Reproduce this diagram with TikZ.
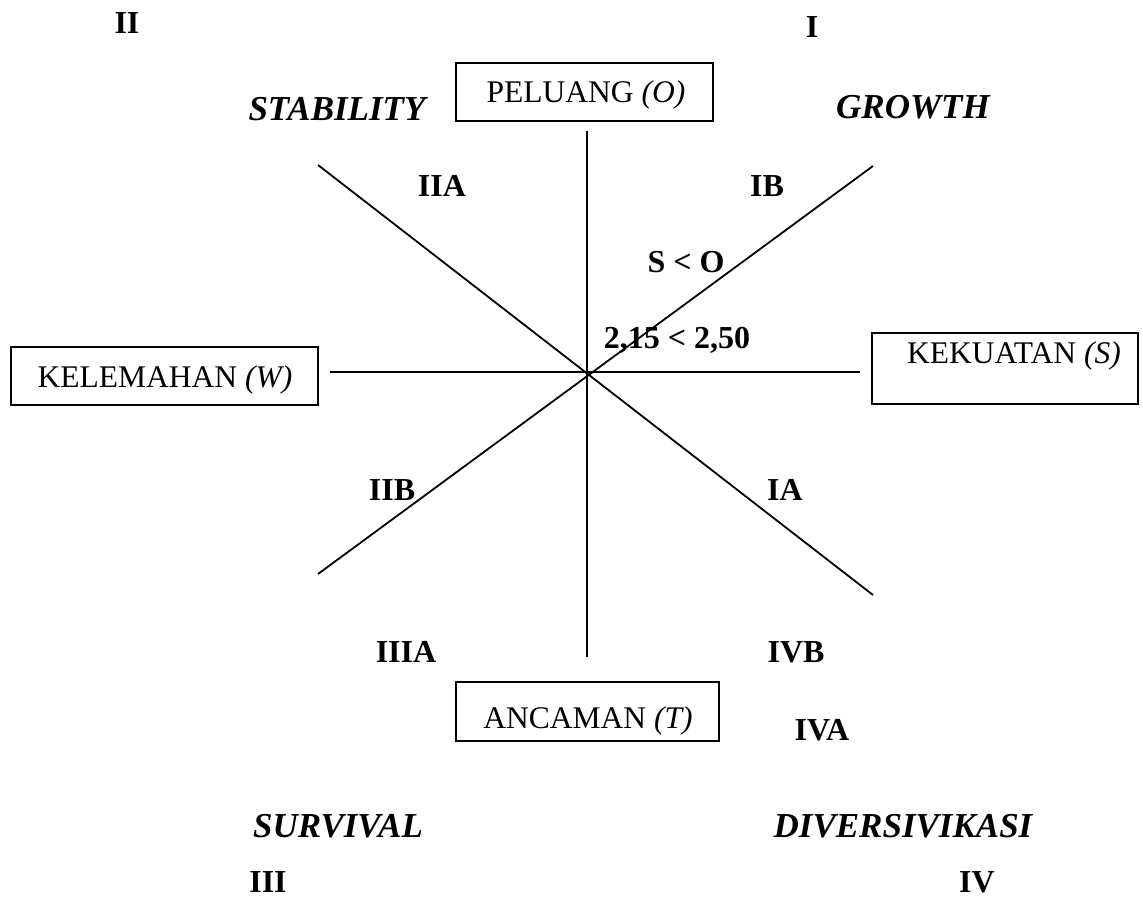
\documentclass[tikz,border=0pt]{standalone}
\usepackage{fontspec}
\setmainfont{Liberation Serif}
\begin{document}
\begin{tikzpicture}[x=1pt,y=-1pt,
  ln/.style={line width=1.8pt},
  boxnode/.style={draw,line width=1.8pt,inner sep=0pt},
  boxtxt/.style={anchor=base,inner sep=0pt,font=\fontsize{31.5}{36}\selectfont},
  lab/.style={anchor=base,inner sep=0pt,font=\fontsize{32}{38}\selectfont\bfseries},
  strat/.style={anchor=base,inner sep=0pt,font=\fontsize{35}{40}\selectfont\bfseries\itshape}]
\useasboundingbox (0,0) rectangle (1143,899);
% boxes
\node[boxnode,minimum width=257pt,minimum height=58pt] (pel) at (584.5,92) {};
\node[boxtxt] (peltxt) at (586,102) {PELUANG \textit{(O)}};
\node[boxnode,minimum width=266pt,minimum height=71pt] (kek) at (1005,368.5) {};
\node[boxtxt] (kektxt) at (1014,363) {KEKUATAN \textit{(S)}};
\node[boxnode,minimum width=307pt,minimum height=58pt] (kel) at (164.5,376) {};
\node[boxtxt] (keltxt) at (165,387) {KELEMAHAN \textit{(W)}};
\node[boxnode,minimum width=263pt,minimum height=59pt] (anc) at (587.5,711.5) {};
\node[boxtxt] (anctxt) at (588,728) {ANCAMAN \textit{(T)}};
% axes
\coordinate (vt) at (587,131); \coordinate (vb) at (587,657);
\coordinate (hl) at (330,372); \coordinate (hr) at (860,372);
\coordinate (tl) at (318,165); \coordinate (br) at (873,595);
\coordinate (bl) at (318,574); \coordinate (tr) at (873,166);
\draw[ln] (vt) -- (vb);
\draw[ln] (hl) -- (hr);
\draw[ln] (tl) -- (br);
\draw[ln] (bl) -- (tr);
% quadrant labels
\node[lab] (q2) at (127,34) {II};
\node[lab] (q1) at (812,38) {I};
\node[lab] (q3) at (268,892) {III};
\node[lab] (q4) at (977,892) {IV};
\node[strat] (stab) at (337,120) {STABILITY};
\node[strat] (grow) at (913,118) {GROWTH};
\node[strat] (surv) at (338,837) {SURVIVAL};
\node[strat] (div) at (903,837) {DIVERSIVIKASI};
\node[lab] (iia) at (442,196) {IIA};
\node[lab] (ib) at (767,196) {IB};
\node[lab] (so) at (686,272) {S < O};
\node[lab] (val) at (677,348) {2,15 < 2,50};
\node[lab] (iib) at (392,500) {IIB};
\node[lab] (ia) at (785,500) {IA};
\node[lab] (iiia) at (406,662) {IIIA};
\node[lab] (ivb) at (796,662) {IVB};
\node[lab] (iva) at (822,740) {IVA};
\end{tikzpicture}
\end{document}
